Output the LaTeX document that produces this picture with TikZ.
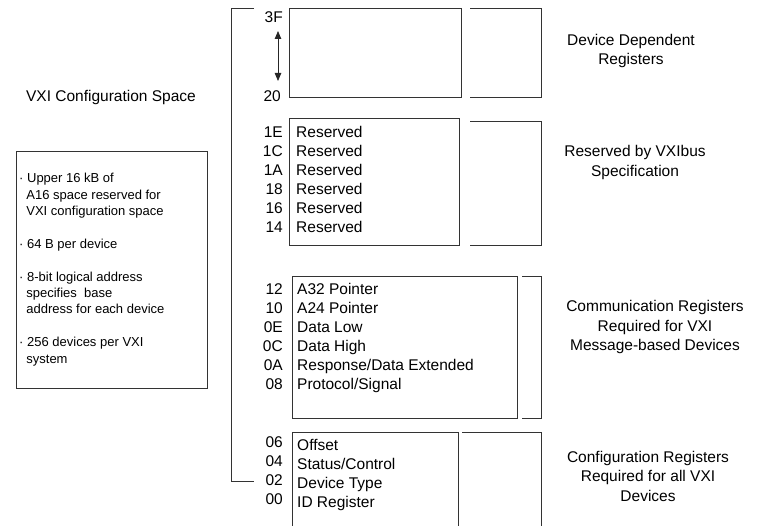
\documentclass[tikz,border=0pt]{standalone}
\usepackage{fontspec}
\setmainfont{Liberation Sans}
\usepackage{tikz}
\usetikzlibrary{arrows.meta, positioning}
\tikzstyle{regbox} = [rectangle, draw=black!80, line width=0.8pt, inner sep=0pt]
\tikzstyle{bracket} = [draw=black!80, line width=0.8pt]
\tikzstyle{addr} = [align=right, inner sep=0pt, font=\fontsize{15.5}{19}\selectfont]
\tikzstyle{regs} = [align=left, inner sep=0pt, font=\fontsize{15.5}{19}\selectfont]
\tikzstyle{caption} = [align=center, inner sep=0pt, font=\fontsize{15.5}{19.5}\selectfont]
\tikzstyle{notes} = [align=left, inner sep=0pt, font=\fontsize{13}{16.4}\selectfont]
\tikzstyle{span} = [{Triangle[length=8pt,width=6.5pt]}-{Triangle[length=8pt,width=6.5pt]}, draw=black!85, line width=0.8pt]

\begin{document}
\begin{tikzpicture}[x=1pt, y=-1pt]
	\useasboundingbox (0,0) rectangle (757,526);
	\clip (0,0) rectangle (757,526);
	
	% register blocks
	\node [regbox, minimum width=172pt, minimum height=89pt] (devbox) at (375,52.5) {};
	\node [regbox, minimum width=170pt, minimum height=127pt] (resbox) at (374,181.5) {};
	\node [regbox, minimum width=225pt, minimum height=142pt] (combox) at (404.5,347) {};
	\node [regbox, minimum width=166pt, minimum height=130pt] (cfgbox) at (375,497) {};
	\node [regbox, minimum width=191pt, minimum height=237pt] (notebox) at (111.5,269.5) {};
	
	% brackets
	\draw [bracket] (254,8) -- (231,8) -- (231,481) -- (254,481);
	\draw [bracket] (470,8) -- (541,8) -- (541,97) -- (470,97);
	\draw [bracket] (470,121) -- (541,121) -- (541,245) -- (470,245);
	\draw [bracket] (522,276) -- (541,276) -- (541,418) -- (522,418);
	\draw [bracket] (462,432) -- (541,432) -- (541,540);
	
	% offsets
	\node [addr, anchor=base east] (hiaddr) at (283,23) {3F};
	\node [addr, anchor=base east] (loaddr) at (281,102) {20};
	\coordinate (arrtop) at (278,31);
	\coordinate (arrbot) at (278,81);
	\draw [span] (arrtop) -- (arrbot);
	
	\node [addr, anchor=north east] (resaddr) at (283,126.3) {1E\\1C\\1A\\18\\16\\14};
	\node [regs, anchor=north west] (restext) at (296,126.1) {Reserved\\Reserved\\Reserved\\Reserved\\Reserved\\Reserved};
	
	\node [addr, anchor=north east] (comaddr) at (283,283.3) {12\\10\\0E\\0C\\0A\\08};
	\node [regs, anchor=north west] (comtext) at (297,283.1) {A32 Pointer\\A24 Pointer\\Data Low\\Data High\\Response/Data Extended\\Protocol/Signal};
	
	\node [addr, anchor=north east] (cfgaddr) at (283,436.3) {06\\04\\02\\00};
	\node [regs, anchor=north west] (cfgtext) at (297,439.1) {Offset\\Status/Control\\Device Type\\ID Register};
	
	% descriptions
	\node [caption] (devlabel) at (631,51) {Device Dependent\\Registers};
	\node [caption] (reslabel) at (635,162.5) {Reserved by VXIbus\\Specification};
	\node [caption] (comlabel) at (655,327) {Communication Registers\\Required for VXI\\Message-based Devices};
	\node [caption] (cfglabel) at (648,476) {Configuration Registers\\Required for all VXI\\Devices};
	
	\node [caption] (title) at (111,97) {VXI Configuration Space};
	\node [notes, anchor=north west] (notes) at (19,173.1) {%
		· Upper 16 kB of\\
		\hspace*{7.2pt}A16 space reserved for\\
		\hspace*{7.2pt}VXI configuration space\\[16.4pt]
		· 64 B per device\\[16.4pt]
		· 8-bit logical address\\
		\hspace*{7.2pt}specifies~ base\\
		\hspace*{7.2pt}address for each device\\[16.4pt]
		· 256 devices per VXI\\
		\hspace*{7.2pt}system};
	
\end{tikzpicture}
\end{document}
